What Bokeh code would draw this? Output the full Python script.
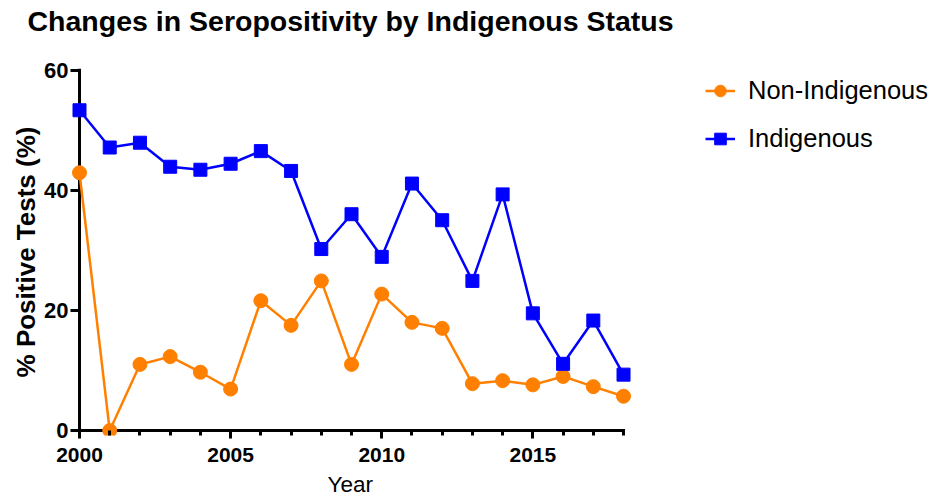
from bokeh.plotting import figure
from bokeh.models import Range1d, SingleIntervalTicker, Legend, LegendItem, LinearAxis, Title
from bokeh.embed import file_html
from bokeh.resources import INLINE

years = list(range(2000, 2019))
non_indigenous = [42.9, 0.0, 11.0, 12.3, 9.7, 6.9, 21.6, 17.5, 24.9, 11.0,
                  22.7, 18.0, 17.0, 7.8, 8.3, 7.6, 9.0, 7.3, 5.7]
indigenous = [53.3, 47.1, 47.9, 43.9, 43.4, 44.4, 46.5, 43.2, 30.2, 36.0,
              28.9, 41.1, 35.0, 24.9, 39.3, 19.5, 11.1, 18.3, 9.3]
y_ticks = [0, 20, 40, 60]
series_names = ["Non-Indigenous", "Indigenous"]
colors = ["#FF8000", "#0000FF"]

FONT = "Liberation Sans"

# frame: extra room on the right holds the legend
p = figure(width=933, height=501, output_backend="svg", toolbar_location=None,
           x_range=Range1d(1999.702, 2028.19), y_range=Range1d(-0.83, 60.25),
           x_axis_location=None, y_axis_location=None,
           title="Changes in Seropositivity by Indigenous Status")
p.min_border_left = 70
p.min_border_right = 2
p.min_border_top = 68
p.min_border_bottom = 65
p.outline_line_color = None
p.grid.visible = False

p.title.text_font = FONT
p.title.text_font_size = "28.5px"
p.title.text_font_style = "bold"
p.title.text_color = "black"
p.title.offset = -43
p.title.vertical_align = "top"
p.title.standoff = 0

# empty spacer between the frame and the main title (lifts the title up)
spacer = Title(text=" ", text_font_size="1px", standoff=27)
p.add_layout(spacer, "above")

xaxis = LinearAxis(bounds=(years[0], years[-1]),
                   ticker=SingleIntervalTicker(interval=5, num_minor_ticks=5))
yaxis = LinearAxis(bounds=(y_ticks[0], y_ticks[-1]),
                   ticker=SingleIntervalTicker(interval=20, num_minor_ticks=0))
p.add_layout(xaxis, "below")
p.add_layout(yaxis, "left")

for ax in (xaxis, yaxis):
    ax.axis_line_color = None
    ax.major_tick_line_width = 3
    ax.minor_tick_line_width = 3
    ax.major_tick_line_color = "black"
    ax.minor_tick_line_color = "black"
    ax.major_label_text_font = FONT
    ax.major_label_text_font_style = "bold"
    ax.major_label_text_color = "black"
    ax.axis_label_text_font = FONT
    ax.axis_label_text_color = "black"

xaxis.major_tick_in = 5
xaxis.major_tick_out = 3
xaxis.minor_tick_in = 5
xaxis.minor_tick_out = 0
xaxis.major_label_text_font_size = "21px"
xaxis.major_label_standoff = 9

yaxis.major_tick_in = 9
yaxis.major_tick_out = 0
yaxis.minor_tick_line_color = None
yaxis.major_label_text_font_size = "22px"
yaxis.major_label_standoff = 2
yaxis.axis_label = "% Positive Tests (%)"
yaxis.axis_label_text_font_size = "26px"
yaxis.axis_label_text_font_style = "bold"
yaxis.axis_label_standoff = 0

year_title = Title(text="Year", align="left", offset=257, standoff=10,
                   text_font=FONT, text_font_size="22.5px",
                   text_font_style="normal", text_color="black")
p.add_layout(year_title, "below")

# axis lines drawn at x = first year and y = 0, spanning the tick bounds
p.segment(x0=[years[0], years[0]], y0=[y_ticks[0], y_ticks[0]],
          x1=[years[0], years[-1]], y1=[y_ticks[-1], y_ticks[0]],
          line_color="black", line_width=3, line_cap="square")

r1l = p.line(years, non_indigenous, color=colors[0], line_width=2.5)
r1m = p.scatter(years, non_indigenous, marker="circle", size=14,
                fill_color=colors[0], line_color=colors[0])
r2l = p.line(years, indigenous, color=colors[1], line_width=2.5)
r2m = p.scatter(years, indigenous, marker="square", size=13,
                fill_color=colors[1], line_color=colors[1])

legend = Legend(items=[LegendItem(label=series_names[0], renderers=[r1l, r1m]),
                       LegendItem(label=series_names[1], renderers=[r2l, r2m])],
                location=(635, 282))
legend.padding = 0
legend.margin = 0
legend.border_line_color = None
legend.background_fill_alpha = 0
legend.glyph_width = 30
legend.glyph_height = 29
legend.label_height = 29
legend.label_standoff = 13
legend.spacing = 19
legend.label_text_font = FONT
legend.label_text_font_size = "25.5px"
legend.label_text_color = "black"
p.add_layout(legend, "center")

open("out.html", "w").write(file_html(p, INLINE))
